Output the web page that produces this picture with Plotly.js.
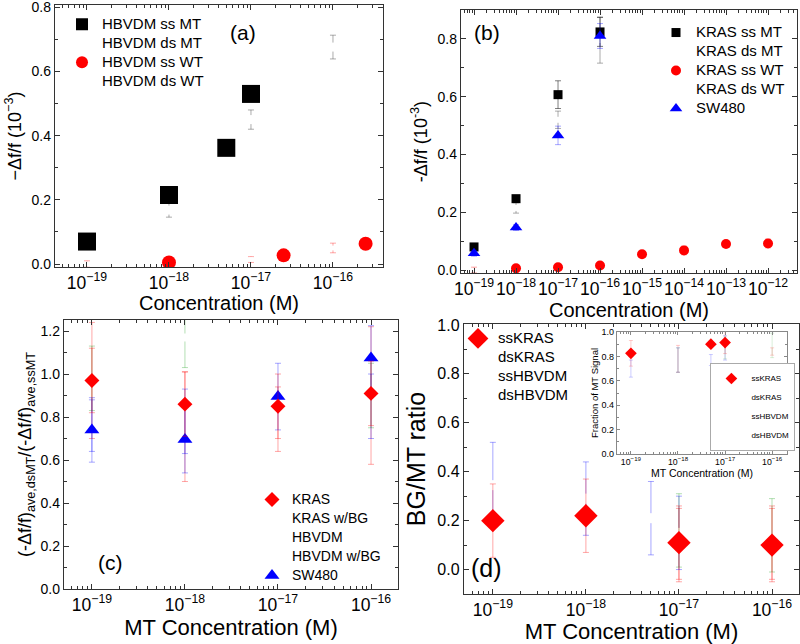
<!DOCTYPE html>
<html><head><meta charset="utf-8">
<script src="https://cdn.plot.ly/plotly-3.0.1.min.js"></script>
<style>html,body{margin:0;padding:0;background:#fff}#chart{width:800px;height:644px}</style>
</head><body><div id="chart"></div>
<script>
// ---------- Panel (a): HBVDM ----------
const aConcSsMT = [1e-19, 1e-18, 5e-18, 1e-17];
const aSsMT     = [0.07, 0.215, 0.362, 0.53];
const aConcDsMT = [1e-19, 1e-18, 1e-17, 1e-16];
const aDsMT     = [0.045, 0.168, 0.45, 0.676];
const aDsMTErr  = [0.01, 0.022, 0.03, 0.037];
const aConcSsWT = [1e-18, 2.5e-17, 2.5e-16];
const aSsWT     = [0.005, 0.027, 0.063];
const aConcDsWT = [1e-19, 1e-17, 1e-16];
const aDsWT     = [0.0, 0.014, 0.05];
const aDsWTErr  = [0.01, 0.009, 0.015];

// ---------- Panel (b): KRAS ----------
const bConcMT   = [1e-19, 1e-18, 1e-17, 1e-16];
const bSsMT     = [0.08, 0.247, 0.607, 0.824];
const bSsMTErr  = [0.008, 0.01, 0.048, 0.05];
const bConcDsMT = [1e-18, 1e-17, 1e-16];
const bDsMT     = [0.215, 0.52, 0.796];
const bDsMTErr  = [0.018, 0.03, 0.08];
const bConcSsWT = [1e-18, 1e-17, 1e-16, 1e-15, 1e-14, 1e-13, 1e-12];
const bSsWT     = [0.006, 0.01, 0.016, 0.055, 0.068, 0.09, 0.092];
const bSsWTErr  = [0.003, 0.004, 0.005, 0.006, 0.015, 0.012, 0.015];
const bConcDsWT = [1e-19];
const bDsWT     = [0.0];
const bDsWTErr  = [0.01];
const bSW480    = [0.058, 0.147, 0.466, 0.81];
const bSW480Err = [0.01, 0.01, 0.032, 0.043];

// ---------- Panel (c): ds/ss ratio ----------
const cConc        = [1e-19, 1e-18, 1e-17, 1e-16];
const cKRAS        = [0.97, 0.86, 0.85, 0.91];
const cKRASErr     = [0.15, 0.15, 0.15, 0.15];
const cKRASBG      = [0.97, 0.755, 0.79, 0.90];
const cKRASBGErr   = [0.27, 0.255, 0.15, 0.32];
const cHBVDM       = [0.98, 1.17, null, 0.90];
const cHBVDMErr    = [0.15, 0.14, 0, 0.15];
const cHBVDMBG     = [0.76, 0.78, null, 0.85];
const cHBVDMBGErr  = [0.12, 0.15, 0, 0.15];
const cSW480       = [0.74, 0.695, 0.895, 1.075];
const cSW480Err    = [0.15, 0.155, 0.155, 0.15];

// ---------- Panel (d): BG/MT ratio ----------
const dConcSsKRAS  = [1e-19, 1e-18, 1e-17, 1e-16];
const dSsKRAS      = [0.20, 0.22, 0.11, 0.10];
const dSsKRASErr   = [0.15, 0.15, 0.15, 0.15];
const dConcDsKRAS  = [1e-17, 1e-16];
const dDsKRAS      = [0.10, 0.11];
const dDsKRASErr   = [0.15, 0.15];
const dConcSsHBV   = [1e-19, 1e-18, 5e-18, 1e-17];
const dSsHBV       = [0.345, 0.29, 0.21, 0.15];
const dSsHBVErr    = [0.175, 0.15, 0.15, 0.15];
const dConcDsHBV   = [1e-17, 1e-16];
const dDsHBV       = [0.16, 0.14];
const dDsHBVErr    = [0.15, 0.15];

// ---------- Inset of (d): fraction of MT signal ----------
const iConcSsKRAS  = [1e-19, 5e-18, 1e-17];
const iSsKRAS      = [0.825, 0.90, 0.913];
const iSsKRASErr   = [0.105, 0.02, 0.09];
const iConcDsKRAS  = [1e-18, 1e-16];
const iDsKRAS      = [0.78, 0.84];
const iDsKRASErr   = [0.11, 0.03];
const iConcSsHBV   = [1e-19, 1e-18, 5e-18, 1e-17];
const iSsHBV       = [0.70, 0.77, 0.77, 0.87];
const iSsHBVErr    = [0.07, 0.10, 0.045, 0.10];
const iConcDsHBV   = [1e-18, 1e-17, 1e-16];
const iDsHBV       = [0.77, 0.87, 0.89];
const iDsHBVErr    = [0.10, 0.09, 0.10];
const iYTicks      = [0, 0.2, 0.4, 0.6, 0.8, 1.0];
const iYTickText   = ['0.0', '0.2', '0.4', '0.6', '0.8', '1.0'];

const FONT = 'Liberation Sans, Arial, Helvetica, sans-serif';
const RED = '#ff0000', BLUE = '#0000ff';
const RED_EB = 'rgba(255,0,0,0.35)', BLUE_EB = 'rgba(0,0,255,0.35)', GREEN_EB = 'rgba(0,150,0,0.3)', GRAY_EB = 'rgba(90,90,90,0.5)';
const RED_EBI = 'rgba(255,0,0,0.2)', BLUE_EBI = 'rgba(0,0,255,0.2)', GREEN_EBI = 'rgba(0,150,0,0.15)';

function nm(t, px) { return '<span style="font-size:' + px + 'px">' + t + '</span>'; }
function eb(arr, color, w) { return {type: 'data', array: arr, visible: true, color: color, thickness: 1, width: w || 3}; }
function tr(o) {
  return Object.assign({type: 'scatter', mode: 'markers', hoverinfo: 'x+y'}, o);
}
const CLEAR = 'rgba(255,255,255,0)';

const traces = [
  // (a)
  tr({x: aConcDsMT, y: aDsMT, name: nm('HBVDM ds MT', 15), legendrank: 2, xaxis: 'x', yaxis: 'y', legend: 'legend',
      marker: {symbol: 'square', color: '#ffffff', size: 9}, error_y: eb(aDsMTErr, GRAY_EB)}),
  tr({x: aConcDsWT, y: aDsWT, name: nm('HBVDM ds WT', 15), legendrank: 4, xaxis: 'x', yaxis: 'y', legend: 'legend',
      marker: {symbol: 'circle', color: '#ffffff', size: 5}, error_y: eb(aDsWTErr, RED_EB)}),
  tr({x: aConcSsMT, y: aSsMT, name: nm('HBVDM ss MT', 15), legendrank: 1, xaxis: 'x', yaxis: 'y', legend: 'legend',
      marker: {symbol: 'square', color: '#000000', size: 18}}),
  tr({x: aConcSsWT, y: aSsWT, name: nm('HBVDM ss WT', 15), legendrank: 3, xaxis: 'x', yaxis: 'y', legend: 'legend',
      marker: {symbol: 'circle', color: RED, size: 14}}),

  // (b)
  tr({x: bConcDsMT, y: bDsMT, name: nm('KRAS ds MT', 15), legendrank: 2, xaxis: 'x2', yaxis: 'y2', legend: 'legend2',
      marker: {symbol: 'square', color: '#ffffff', size: 6}, error_y: eb(bDsMTErr, GRAY_EB)}),
  tr({x: bConcDsWT, y: bDsWT, name: nm('KRAS ds WT', 15), legendrank: 4, xaxis: 'x2', yaxis: 'y2', legend: 'legend2',
      marker: {symbol: 'circle', color: '#ffffff', size: 4}, error_y: eb(bDsWTErr, RED_EB)}),
  tr({x: bConcMT, y: bSsMT, name: nm('KRAS ss MT', 15), legendrank: 1, xaxis: 'x2', yaxis: 'y2', legend: 'legend2',
      marker: {symbol: 'square', color: '#000000', size: 9}, error_y: eb(bSsMTErr, 'rgba(0,0,0,0.5)')}),
  tr({x: bConcSsWT, y: bSsWT, name: nm('KRAS ss WT', 15), legendrank: 3, xaxis: 'x2', yaxis: 'y2', legend: 'legend2',
      marker: {symbol: 'circle', color: RED, size: 10}, error_y: eb(bSsWTErr, RED_EB)}),
  tr({x: bConcMT, y: bSW480, name: nm('SW480', 15), legendrank: 5, xaxis: 'x2', yaxis: 'y2', legend: 'legend2',
      marker: {symbol: 'triangle-up', color: BLUE, size: 11}, error_y: eb(bSW480Err, BLUE_EB)}),

  // (c)
  tr({x: cConc, y: cKRASBG, name: nm('KRAS w/BG', 14), legendrank: 2, xaxis: 'x3', yaxis: 'y3', legend: 'legend3',
      marker: {symbol: 'diamond', color: CLEAR, size: 8}, error_y: eb(cKRASBGErr, RED_EB)}),
  tr({x: cConc, y: cHBVDM, name: nm('HBVDM', 14), legendrank: 3, xaxis: 'x3', yaxis: 'y3', legend: 'legend3',
      marker: {symbol: 'square', color: '#ffffff', size: 8}, error_y: eb(cHBVDMErr, GREEN_EB)}),
  tr({x: cConc, y: cHBVDMBG, name: nm('HBVDM w/BG', 14), legendrank: 4, xaxis: 'x3', yaxis: 'y3', legend: 'legend3',
      marker: {symbol: 'square', color: CLEAR, size: 8}, error_y: eb(cHBVDMBGErr, BLUE_EB)}),
  tr({x: cConc, y: cSW480, name: nm('SW480', 14), legendrank: 5, xaxis: 'x3', yaxis: 'y3', legend: 'legend3',
      marker: {symbol: 'triangle-up', color: BLUE, size: 13}, error_y: eb(cSW480Err, BLUE_EB)}),
  tr({x: cConc, y: cKRAS, name: nm('KRAS', 14), legendrank: 1, xaxis: 'x3', yaxis: 'y3', legend: 'legend3',
      marker: {symbol: 'diamond', color: RED, size: 11.5}, error_y: eb(cKRASErr, RED_EB)}),

  // (d)
  tr({x: dConcDsKRAS, y: dDsKRAS, name: nm('dsKRAS', 15), legendrank: 2, xaxis: 'x4', yaxis: 'y4', legend: 'legend4',
      marker: {symbol: 'diamond', color: CLEAR, size: 8}, error_y: eb(dDsKRASErr, RED_EB)}),
  tr({x: dConcSsHBV, y: dSsHBV, name: nm('ssHBVDM', 15), legendrank: 3, xaxis: 'x4', yaxis: 'y4', legend: 'legend4',
      marker: {symbol: 'square', color: '#ffffff', size: 10}, error_y: eb(dSsHBVErr, BLUE_EB)}),
  tr({x: dConcDsHBV, y: dDsHBV, name: nm('dsHBVDM', 15), legendrank: 4, xaxis: 'x4', yaxis: 'y4', legend: 'legend4',
      marker: {symbol: 'square', color: CLEAR, size: 8}, error_y: eb(dDsHBVErr, GREEN_EB)}),
  tr({x: dConcSsKRAS, y: dSsKRAS, name: nm('ssKRAS', 15), legendrank: 1, xaxis: 'x4', yaxis: 'y4', legend: 'legend4',
      marker: {symbol: 'diamond', color: RED, size: 18}, error_y: eb(dSsKRASErr, RED_EB)}),

  // inset
  tr({x: iConcDsKRAS, y: iDsKRAS, name: nm('dsKRAS', 8), legendrank: 2, xaxis: 'x5', yaxis: 'y5', legend: 'legend5',
      marker: {symbol: 'diamond', color: CLEAR, size: 6}, error_y: eb(iDsKRASErr, RED_EBI, 2)}),
  tr({x: iConcSsHBV, y: iSsHBV, name: nm('ssHBVDM', 8), legendrank: 3, xaxis: 'x5', yaxis: 'y5', legend: 'legend5',
      marker: {symbol: 'square', color: CLEAR, size: 6}, error_y: eb(iSsHBVErr, BLUE_EBI, 2)}),
  tr({x: iConcDsHBV, y: iDsHBV, name: nm('dsHBVDM', 8), legendrank: 4, xaxis: 'x5', yaxis: 'y5', legend: 'legend5',
      marker: {symbol: 'square', color: CLEAR, size: 6}, error_y: eb(iDsHBVErr, GREEN_EBI, 2)}),
  tr({x: iConcSsKRAS, y: iSsKRAS, name: nm('ssKRAS', 8), legendrank: 1, xaxis: 'x5', yaxis: 'y5', legend: 'legend5',
      marker: {symbol: 'diamond', color: RED, size: 9}, error_y: eb(iSsKRASErr, RED_EBI, 2)})
];

function axCommon(extra, fs, lc) {
  return Object.assign({
    showline: true, linecolor: lc || '#333', linewidth: 1.2, mirror: 'allticks',
    ticks: 'inside', ticklen: 5, tickwidth: 1, tickcolor: lc || '#333',
    showgrid: false, zeroline: false, automargin: false, ticklabeloverflow: 'allow',
    showticklabels: true,
    tickfont: {family: FONT, size: fs || 14, color: '#000'}
  }, extra);
}
function logX(domain, anchor, range, title, fs, tfs, standoff, extra) {
  return axCommon(Object.assign({
    type: 'log', domain: domain, anchor: anchor, range: range, dtick: 1, tickangle: 0,
    exponentformat: 'power', showexponent: 'all',
    minor: {ticks: 'inside', ticklen: 3, dtick: 'D1', tickcolor: '#333', showgrid: false},
    title: {text: title, standoff: standoff, font: {family: FONT, size: tfs, color: '#000'}}
  }, extra || {}), fs);
}
function linY(domain, anchor, range, title, fs, tfs, standoff, extra) {
  return axCommon(Object.assign({
    domain: domain, anchor: anchor, range: range, tickmode: 'linear', tick0: 0, dtick: 0.2, tickformat: '.1f',
    side: 'left',
    minor: {ticks: 'inside', ticklen: 3, dtick: 0.1, tickcolor: '#333', showgrid: false},
    title: {text: title, standoff: standoff, font: {family: FONT, size: tfs, color: '#000'}}
  }, extra || {}), fs);
}
function leg(x, y, fsz, extra) {
  return Object.assign({x: x, y: y, xanchor: 'left', yanchor: 'top', bgcolor: 'rgba(0,0,0,0)',
    borderwidth: 0, font: {family: FONT, size: fsz, color: '#000'}, itemclick: false}, extra || {});
}
const INSET_GRAY = '#888';

const yaxis5 = {
  domain: [0.295, 0.4845], anchor: 'x5', range: [0, 1.0], side: 'left',
  tickmode: 'array', tickvals: iYTicks, ticktext: iYTickText,
  showline: true, linecolor: INSET_GRAY, linewidth: 1, mirror: 'ticks',
  ticks: 'inside', ticklen: 3, tickwidth: 1, tickcolor: INSET_GRAY,
  minor: {ticks: 'inside', ticklen: 2, dtick: 0.1, tickcolor: INSET_GRAY},
  showgrid: false, zeroline: false, showticklabels: true, ticklabeloverflow: 'allow', automargin: false,
  tickfont: {family: FONT, size: 9, color: '#000'},
  title: {text: 'Fraction of MT Signal', standoff: 1, font: {family: FONT, size: 9.5, color: '#000'}}
};

const layout = {
  width: 800, height: 644,
  margin: {l: 0, r: 0, t: 0, b: 0, autoexpand: false},
  paper_bgcolor: '#fff', plot_bgcolor: '#fff',
  font: {family: FONT, color: '#000'},
  xaxis:  logX([0.06875, 0.47875], 'y',  [-19.39, -15.39], 'Concentration (M)', 14, 20, 3),
  yaxis:  linY([0.5854, 0.9922],  'x',  [-0.0093, 0.807], '\u2212\u0394f/f (10<sup>\u22123</sup>)', 14, 18, 5),
  xaxis2: logX([0.57625, 0.99625], 'y2', [-19.31, -11.31], 'Concentration (M)', 14, 20, 3),
  yaxis2: linY([0.576, 0.9845],   'x2', [-0.0104, 0.9], '-\u0394f/f (10<sup>-3</sup>)', 14, 18, 5),
  xaxis3: logX([0.08, 0.4975],    'y3', [-19.3, -15.71], 'MT Concentration (M)', 14, 22, 6),
  yaxis3: linY([0.0854, 0.503],   'x3', [0, 1.251], '(-\u0394f/f)<sub>ave,dsMT</sub>/(-\u0394f/f)<sub>ave,ssMT</sub>', 14, 18, 4),
  xaxis4: logX([0.58, 0.99875],   'y4', [-19.31, -15.71], 'MT Concentration (M)', 14, 22, 9),
  yaxis4: linY([0.0776, 0.497],   'x4', [-0.1, 1.004], 'BG/MT ratio', 16, 25, 4),
  xaxis5: logX([0.771, 0.984],    'y5', [-19.3, -15.68], 'MT Concentration (M)', 7, 10.5, 0,
               {linecolor: INSET_GRAY, tickcolor: INSET_GRAY, linewidth: 1, ticklen: 3, minor: {ticks: 'inside', ticklen: 2, dtick: 'D1', tickcolor: INSET_GRAY}}),
  yaxis5: yaxis5,
  legend:  leg(0.0775, 0.985, 12, {itemsizing: 'constant'}),
  legend2: leg(0.82, 0.972, 12, {itemsizing: 'trace'}),
  legend3: leg(0.315, 0.247, 12, {itemsizing: 'trace'}),
  legend4: leg(0.5725, 0.497, 12, {itemsizing: 'trace'}),
  legend5: leg(0.888, 0.2997, 7, {itemsizing: 'trace', yanchor: 'bottom', bgcolor: '#fff', bordercolor: '#aaa', borderwidth: 1}),
  showlegend: true,
  annotations: [
    {text: '(a)', x: 0.304, y: 0.9488, xref: 'paper', yref: 'paper', xanchor: 'center', yanchor: 'middle', showarrow: false, font: {family: FONT, size: 21, color: '#000'}},
    {text: '(b)', x: 0.609, y: 0.9488, xref: 'paper', yref: 'paper', xanchor: 'center', yanchor: 'middle', showarrow: false, font: {family: FONT, size: 21, color: '#000'}},
    {text: '(c)', x: 0.1375, y: 0.1273, xref: 'paper', yref: 'paper', xanchor: 'center', yanchor: 'middle', showarrow: false, font: {family: FONT, size: 21, color: '#000'}},
    {text: '(d)', x: 0.6075, y: 0.118, xref: 'paper', yref: 'paper', xanchor: 'center', yanchor: 'middle', showarrow: false, font: {family: FONT, size: 25, color: '#000'}}
  ]
};

Plotly.newPlot('chart', traces, layout, {staticPlot: true, displayModeBar: false});
</script></body></html>
